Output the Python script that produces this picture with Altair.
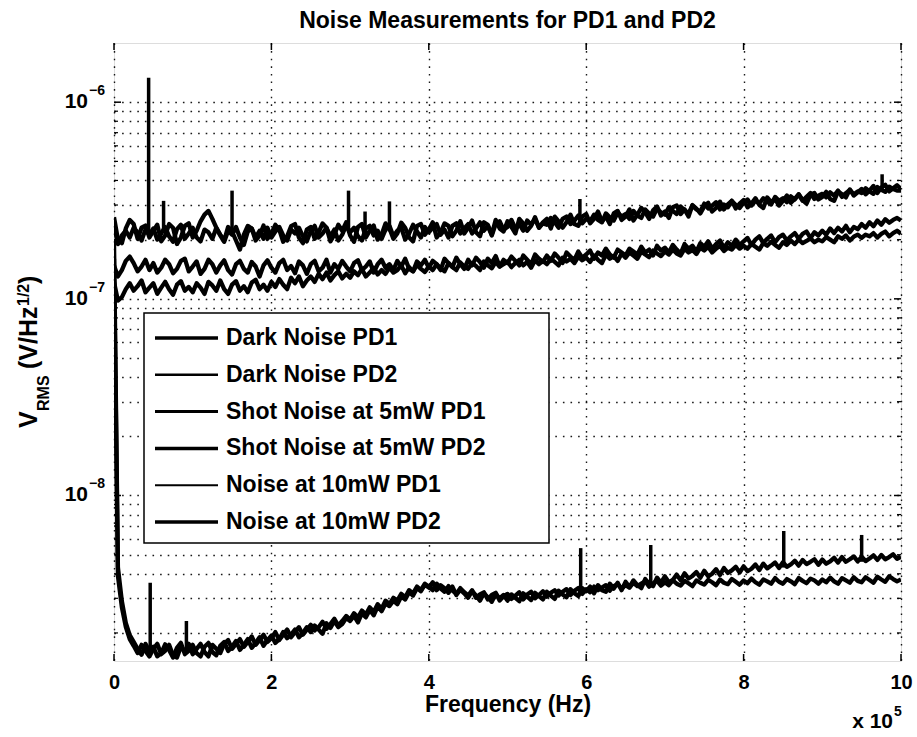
import altair as alt
import pandas as pd

FONT = "Liberation Sans"

# Frequency sampling grid in units of 1e5 Hz (0 .. 10, step 0.05)
FREQ = [round(0.05 * i, 2) for i in range(201)]

SERIES = ["Dark Noise PD1", "Dark Noise PD2", "Shot Noise at 5mW PD1",
          "Shot Noise at 5mW PD2", "Noise at 10mW PD1", "Noise at 10mW PD2"]
LEGEND_WIDTH = [3.5, 2.5, 3.0, 3.5, 2.0, 3.5]

# Dark noise, units of 1e-9 V/sqrt(Hz)
DARK_PD1 = [200, 4.30, 2.90, 2.25, 1.95, 1.80, 1.66, 1.55, 1.76, 1.62,
            1.70, 1.52, 1.58, 1.75, 1.64, 1.50, 1.68, 1.78, 1.56, 1.62,
            1.74, 1.58, 1.52, 1.70, 1.78, 1.60, 1.54, 1.72, 1.80, 1.62,
            1.70, 1.82, 1.64, 1.74, 1.86, 1.68, 1.78, 1.90, 1.72, 1.84,
            1.94, 1.78, 1.86, 2.02, 1.88, 1.96, 2.08, 1.90, 2.00, 2.14,
            2.02, 2.18, 2.08, 1.98, 2.24, 2.12, 2.30, 2.14, 2.22, 2.38,
            2.30, 2.44, 2.26, 2.52, 2.40, 2.62, 2.46, 2.72, 2.58, 2.82,
            2.74, 2.92, 2.80, 3.06, 2.96, 3.22, 3.10, 3.38, 3.26, 3.52,
            3.40, 3.62, 3.30, 3.50, 3.38, 3.20, 3.44, 3.12, 3.32, 3.18,
            3.02, 3.26, 3.10, 2.92, 3.18, 3.04, 2.88, 3.16, 3.00, 3.12,
            2.92, 3.14, 3.02, 2.90, 3.18, 3.06, 2.94, 3.20, 3.08, 2.96,
            3.24, 3.10, 2.98, 3.28, 3.14, 3.04, 3.34, 3.18, 3.08, 3.38,
            3.26, 3.44, 3.18, 3.50, 3.30, 3.24, 3.56, 3.36, 3.60, 3.30,
            3.64, 3.42, 3.70, 3.50, 3.38, 3.76, 3.56, 3.46, 3.82, 3.60,
            3.88, 3.62, 3.72, 3.96, 3.70, 4.02, 3.78, 3.90, 4.08, 3.82,
            4.14, 3.88, 4.00, 4.22, 3.94, 4.28, 4.04, 4.16, 4.34, 4.06,
            4.36, 4.12, 4.24, 4.46, 4.18, 4.50, 4.26, 4.40, 4.56, 4.28,
            4.58, 4.34, 4.46, 4.66, 4.40, 4.70, 4.48, 4.60, 4.74, 4.44,
            4.72, 4.50, 4.62, 4.82, 4.56, 4.86, 4.60, 4.74, 4.90, 4.62,
            4.88, 4.64, 4.78, 4.96, 4.70, 4.98, 4.74, 4.86, 5.02, 4.76,
            4.88]
DARK_PD2 = [160, 3.90, 2.70, 2.15, 1.86, 1.72, 1.58, 1.74, 1.62, 1.52,
            1.66, 1.76, 1.56, 1.62, 1.74, 1.54, 1.50, 1.70, 1.60, 1.76,
            1.56, 1.66, 1.76, 1.60, 1.52, 1.74, 1.66, 1.58, 1.76, 1.84,
            1.66, 1.76, 1.86, 1.70, 1.80, 1.92, 1.74, 1.84, 1.96, 1.80,
            1.88, 2.02, 1.84, 1.96, 2.08, 1.90, 2.02, 2.14, 1.96, 2.08,
            2.20, 2.06, 2.14, 2.28, 2.10, 2.22, 2.36, 2.18, 2.30, 2.44,
            2.34, 2.52, 2.40, 2.60, 2.48, 2.70, 2.56, 2.80, 2.66, 2.92,
            2.80, 3.02, 2.92, 3.16, 3.04, 3.30, 3.18, 3.44, 3.30, 3.56,
            3.44, 3.30, 3.56, 3.36, 3.24, 3.46, 3.28, 3.16, 3.38, 3.22,
            3.10, 3.30, 3.02, 3.14, 3.22, 2.96, 3.12, 3.20, 2.92, 3.08,
            3.16, 2.98, 3.10, 3.22, 2.96, 3.14, 3.24, 3.00, 3.12, 3.26,
            3.06, 3.20, 3.30, 3.10, 3.24, 3.34, 3.12, 3.28, 3.38, 3.16,
            3.34, 3.22, 3.44, 3.30, 3.40, 3.50, 3.28, 3.46, 3.54, 3.36,
            3.50, 3.40, 3.60, 3.46, 3.56, 3.66, 3.44, 3.58, 3.68, 3.48,
            3.62, 3.50, 3.70, 3.56, 3.48, 3.68, 3.58, 3.46, 3.70, 3.60,
            3.52, 3.72, 3.62, 3.50, 3.74, 3.60, 3.54, 3.76, 3.64, 3.52,
            3.70, 3.58, 3.78, 3.62, 3.52, 3.74, 3.66, 3.56, 3.80, 3.64,
            3.56, 3.76, 3.66, 3.54, 3.80, 3.68, 3.58, 3.78, 3.70, 3.56,
            3.74, 3.62, 3.82, 3.66, 3.56, 3.80, 3.70, 3.60, 3.84, 3.68,
            3.62, 3.84, 3.72, 3.60, 3.86, 3.74, 3.64, 3.88, 3.76, 3.66,
            3.74]

# Shot noise at 5 mW, units of 1e-7 V/sqrt(Hz)
SHOT_PD1 = [1.48, 1.30, 1.40, 1.56, 1.64, 1.52, 1.38, 1.46, 1.58, 1.40,
            1.52, 1.36, 1.44, 1.58, 1.50, 1.35, 1.42, 1.56, 1.60, 1.38,
            1.46, 1.55, 1.34, 1.42, 1.58, 1.50, 1.36, 1.48, 1.57, 1.40,
            1.33, 1.50, 1.56, 1.42, 1.36, 1.54, 1.46, 1.30, 1.48, 1.57,
            1.44, 1.36, 1.52, 1.58, 1.40, 1.47, 1.35, 1.55, 1.48, 1.34,
            1.50, 1.56, 1.38, 1.44, 1.58, 1.36, 1.50, 1.42, 1.56, 1.46,
            1.38, 1.52, 1.57, 1.40, 1.46, 1.55, 1.36, 1.50, 1.58, 1.44,
            1.50, 1.40, 1.56, 1.46, 1.60, 1.42, 1.38, 1.55, 1.48, 1.58,
            1.44, 1.56, 1.50, 1.40, 1.60, 1.52, 1.45, 1.62, 1.50, 1.42,
            1.58, 1.48, 1.62, 1.54, 1.44, 1.60, 1.52, 1.65, 1.46, 1.58,
            1.52, 1.64, 1.56, 1.48, 1.66, 1.58, 1.50, 1.68, 1.60, 1.54,
            1.66, 1.56, 1.70, 1.62, 1.52, 1.72, 1.64, 1.58, 1.74, 1.62,
            1.68, 1.76, 1.60, 1.72, 1.66, 1.80, 1.68, 1.62, 1.78, 1.72,
            1.66, 1.80, 1.74, 1.68, 1.84, 1.72, 1.78, 1.66, 1.86, 1.76,
            1.82, 1.72, 1.88, 1.78, 1.70, 1.90, 1.80, 1.86, 1.74, 1.92,
            1.84, 1.96, 1.80, 1.90, 1.98, 1.82, 1.94, 1.86, 2.00, 1.88,
            1.96, 2.04, 1.88, 2.00, 2.08, 1.92, 2.02, 2.10, 1.94, 2.06,
            2.12, 1.98, 2.08, 2.16, 2.02, 2.14, 2.20, 2.04, 2.18, 2.10,
            2.22, 2.12, 2.28, 2.16, 2.30, 2.20, 2.35, 2.18, 2.32, 2.26,
            2.40, 2.30, 2.45, 2.34, 2.50, 2.38, 2.54, 2.44, 2.52, 2.58,
            2.50]
SHOT_PD2 = [1.22, 0.98, 1.02, 1.12, 1.20, 1.10, 1.16, 1.24, 1.08, 1.14,
            1.20, 1.06, 1.14, 1.22, 1.12, 1.05, 1.18, 1.23, 1.10, 1.15,
            1.08, 1.20, 1.14, 1.06, 1.22, 1.17, 1.10, 1.24, 1.12, 1.06,
            1.18, 1.23, 1.10, 1.16, 1.08, 1.21, 1.25, 1.12, 1.18, 1.10,
            1.22, 1.15, 1.26, 1.18, 1.12, 1.28, 1.20, 1.30, 1.16, 1.24,
            1.30, 1.22, 1.34, 1.26, 1.36, 1.24, 1.32, 1.38, 1.27, 1.34,
            1.28, 1.38, 1.32, 1.42, 1.30, 1.36, 1.44, 1.33, 1.40, 1.34,
            1.44, 1.36, 1.40, 1.48, 1.35, 1.45, 1.38, 1.49, 1.42, 1.37,
            1.46, 1.40, 1.50, 1.43, 1.38, 1.52, 1.45, 1.40, 1.53, 1.46,
            1.42, 1.52, 1.47, 1.40, 1.55, 1.48, 1.43, 1.54, 1.46, 1.50,
            1.55, 1.45, 1.52, 1.58, 1.48, 1.54, 1.44, 1.57, 1.50, 1.56,
            1.50, 1.60, 1.54, 1.48, 1.62, 1.55, 1.60, 1.52, 1.64, 1.57,
            1.62, 1.54, 1.66, 1.58, 1.52, 1.68, 1.60, 1.65, 1.56, 1.70,
            1.62, 1.72, 1.66, 1.60, 1.74, 1.68, 1.63, 1.76, 1.70, 1.65,
            1.74, 1.68, 1.78, 1.70, 1.66, 1.80, 1.72, 1.77, 1.69, 1.82,
            1.76, 1.84, 1.72, 1.80, 1.86, 1.75, 1.82, 1.78, 1.88, 1.80,
            1.86, 1.80, 1.90, 1.84, 1.78, 1.92, 1.86, 1.95, 1.88, 1.82,
            1.94, 1.88, 1.98, 1.90, 2.00, 1.92, 1.97, 2.03, 1.94, 2.00,
            1.96, 2.06, 2.00, 1.94, 2.08, 2.02, 2.10, 1.98, 2.07, 2.12,
            2.04, 2.12, 2.08, 2.16, 2.05, 2.14, 2.20, 2.08, 2.16, 2.22,
            2.14]

# Noise at 10 mW, units of 1e-7 V/sqrt(Hz)
N10_PD1 = [2.60, 2.00, 1.92, 2.28, 2.52, 2.40, 2.02, 2.30, 2.36, 2.05,
           2.22, 2.38, 1.96, 2.10, 2.40, 2.30, 1.90, 2.05, 2.35, 2.42,
           2.05, 2.22, 2.48, 2.68, 2.80, 2.55, 2.30, 2.12, 1.98, 2.32,
           2.20, 1.98, 1.78, 2.12, 2.35, 2.28, 1.98, 2.10, 2.36, 2.02,
           2.15, 2.38, 2.25, 1.95, 2.08, 2.34, 2.40, 2.05, 1.92, 2.25,
           2.32, 2.02, 2.18, 2.42, 2.30, 1.96, 2.12, 2.38, 2.22, 2.45,
           2.10, 1.95, 2.32, 2.40, 2.05, 2.22, 2.36, 2.00, 2.12, 2.42,
           2.28, 2.02, 2.15, 2.44, 2.30, 2.05, 1.96, 2.35, 2.40, 2.12,
           2.25, 2.45, 2.05, 2.18, 2.42, 2.35, 2.08, 2.22, 2.48, 2.15,
           2.30, 2.50, 2.18, 2.08, 2.45, 2.38, 2.12, 2.52, 2.28, 2.20,
           2.48, 2.32, 2.15, 2.55, 2.42, 2.22, 2.35, 2.60, 2.30, 2.45,
           2.55, 2.28, 2.62, 2.48, 2.30, 2.45, 2.68, 2.40, 2.35, 2.62,
           2.70, 2.42, 2.55, 2.78, 2.48, 2.62, 2.40, 2.72, 2.80, 2.52,
           2.62, 2.85, 2.50, 2.68, 2.90, 2.75, 2.55, 2.82, 2.95, 2.65,
           2.78, 2.58, 2.92, 2.98, 2.70, 2.85, 2.62, 3.00, 2.88, 2.72,
           2.95, 3.08, 2.78, 2.90, 3.12, 2.85, 3.02, 3.15, 2.88, 3.05,
           3.18, 2.92, 3.05, 3.25, 3.00, 2.90, 3.28, 3.10, 3.22, 2.98,
           3.15, 3.35, 3.08, 3.22, 3.40, 3.18, 3.05, 3.38, 3.45, 3.20,
           3.30, 3.50, 3.22, 3.15, 3.52, 3.40, 3.28, 3.60, 3.35, 3.48,
           3.62, 3.40, 3.55, 3.75, 3.45, 3.68, 3.80, 3.52, 3.65, 3.78,
           3.62]
N10_PD2 = [2.35, 1.90, 2.10, 2.22, 2.05, 2.30, 2.18, 1.98, 2.25, 2.12,
           2.28, 2.00, 2.15, 2.32, 2.08, 1.95, 2.26, 2.38, 2.02, 2.15,
           2.30, 2.05, 1.96, 2.25, 2.18, 2.02, 2.30, 2.10, 1.95, 2.22,
           2.12, 2.32, 2.05, 1.88, 2.20, 2.28, 2.05, 2.22, 2.02, 2.30,
           2.05, 2.20, 2.32, 2.10, 1.98, 2.25, 2.15, 2.30, 2.08, 1.96,
           2.22, 2.35, 2.05, 2.15, 2.30, 2.08, 2.25, 1.98, 2.12, 2.36,
           2.18, 2.30, 2.08, 1.98, 2.28, 2.35, 2.10, 2.22, 2.02, 2.25,
           2.35, 2.08, 2.22, 2.30, 2.00, 2.15, 2.38, 2.20, 2.05, 2.32,
           2.18, 2.30, 2.40, 2.12, 2.25, 2.05, 2.35, 2.42, 2.15, 2.28,
           2.40, 2.15, 2.28, 2.45, 2.22, 2.35, 2.10, 2.40, 2.48, 2.25,
           2.32, 2.52, 2.28, 2.40, 2.22, 2.50, 2.38, 2.55, 2.30, 2.42,
           2.38, 2.58, 2.45, 2.30, 2.55, 2.62, 2.40, 2.50, 2.65, 2.42,
           2.55, 2.48, 2.68, 2.52, 2.45, 2.72, 2.60, 2.50, 2.75, 2.62,
           2.70, 2.55, 2.80, 2.65, 2.58, 2.85, 2.72, 2.62, 2.88, 2.75,
           2.68, 2.92, 2.80, 2.70, 2.95, 2.82, 2.72, 2.98, 2.85, 2.78,
           3.05, 2.88, 2.98, 3.10, 2.85, 3.02, 2.92, 3.15, 3.00, 2.90,
           3.08, 3.20, 2.98, 3.15, 3.05, 3.25, 3.12, 3.02, 3.30, 3.15,
           3.25, 3.10, 3.32, 3.20, 3.40, 3.15, 3.30, 3.45, 3.22, 3.35,
           3.42, 3.28, 3.48, 3.35, 3.55, 3.30, 3.45, 3.58, 3.40, 3.52,
           3.45, 3.65, 3.52, 3.42, 3.70, 3.58, 3.50, 3.72, 3.62, 3.55,
           3.55]

# Narrow spectral spikes: frequency (1e5 Hz), floor and peak
N10_SPIKE_FREQ = [0.44, 0.63, 1.50, 2.98, 3.19, 3.50, 5.92, 9.76]
N10_SPIKE_BASE = [2.2, 2.2, 2.15, 2.2, 2.2, 2.2, 2.45, 3.5]      # 1e-7
N10_SPIKE_PEAK = [13.3, 3.15, 3.55, 3.55, 2.78, 3.13, 3.22, 4.3]  # 1e-7
DARK_SPIKE_FREQ = [0.46, 0.92, 5.93, 6.82, 8.51, 9.50]
DARK_SPIKE_BASE = [1.65, 1.65, 3.2, 3.6, 4.3, 4.6]               # 1e-9
DARK_SPIKE_PEAK = [3.6, 2.3, 5.4, 5.6, 6.6, 6.3]                 # 1e-9

X_TICKS = [0, 2, 4, 6, 8, 10]
Y_MAJOR = [1e-8, 1e-7, 1e-6]
Y_MAJOR_EXP = ["\u22128", "\u22127", "\u22126"]
Y_MINOR = [2e-9, 3e-9, 4e-9, 5e-9, 6e-9, 7e-9, 8e-9, 9e-9,
           2e-8, 3e-8, 4e-8, 5e-8, 6e-8, 7e-8, 8e-8, 9e-8,
           2e-7, 3e-7, 4e-7, 5e-7, 6e-7, 7e-7, 8e-7, 9e-7]

# ---------------------------------------------------------------- tables
rows = []
for name, vals, unit in [(SERIES[0], DARK_PD1, 1e-9), (SERIES[1], DARK_PD2, 1e-9),
                         (SERIES[2], SHOT_PD1, 1e-7), (SERIES[3], SHOT_PD2, 1e-7),
                         (SERIES[4], N10_PD1, 1e-7), (SERIES[5], N10_PD2, 1e-7)]:
    for f, v in zip(FREQ, vals):
        rows.append({"series": name, "f": f, "v": v * unit})
df = pd.DataFrame(rows)

spk = pd.DataFrame(
    [{"f": f, "base": b * 1e-7, "peak": p * 1e-7}
     for f, b, p in zip(N10_SPIKE_FREQ, N10_SPIKE_BASE, N10_SPIKE_PEAK)] +
    [{"f": f, "base": b * 1e-9, "peak": p * 1e-9}
     for f, b, p in zip(DARK_SPIKE_FREQ, DARK_SPIKE_BASE, DARK_SPIKE_PEAK)])

xt = pd.DataFrame({"f": X_TICKS})
ymaj = pd.DataFrame({"v": Y_MAJOR, "e": Y_MAJOR_EXP})
ymin = pd.DataFrame({"v": Y_MINOR})
leg = pd.DataFrame({"series": SERIES, "idx": list(range(len(SERIES))), "lw": LEGEND_WIDTH})
one = pd.DataFrame({"k": [0]})

W, H = 787, 618
XSCALE = alt.Scale(domain=[0, 10], nice=False, zero=False)
YSCALE = alt.Scale(type="log", domain=[1.44e-9, 2.0e-6], nice=False)
GRID = dict(grid=True, gridDash=[1.6, 6], gridColor="black", gridWidth=1.4, gridOpacity=0.9)
XAXIS = alt.Axis(values=X_TICKS, ticks=False, tickSize=0, domain=False, title=None,
                 labelFont=FONT, labelFontSize=20, labelFontWeight="bold", labelColor="black",
                 labelPadding=11, labelFlush=False, labelOverlap=False, **GRID)
YAXIS = alt.Axis(values=Y_MINOR + Y_MAJOR, ticks=False, tickSize=0, domain=False,
                 labels=False, title=None, **GRID)


def X(field):
    return alt.X(field, scale=XSCALE, axis=XAXIS)


def Y(field, axis=None):
    return alt.Y(field, scale=YSCALE, axis=axis)


lines = alt.Chart(df).mark_line(color="black", strokeWidth=4.3, strokeJoin="round", clip=True).encode(
    x=X("f:Q"), y=Y("v:Q", YAXIS), detail="series:N")
spikes = alt.Chart(spk).mark_rule(color="black", strokeWidth=3.5).encode(
    x=X("f:Q"), y=Y("base:Q"), y2="peak:Q")
xt_bot = alt.Chart(xt).mark_rule(color="black", strokeWidth=1.5).encode(
    x=X("f:Q"), y=alt.value(H), y2=alt.value(H - 7))
xt_top = alt.Chart(xt).mark_rule(color="black", strokeWidth=1.5).encode(
    x=X("f:Q"), y=alt.value(0), y2=alt.value(7))
ymaj_l = alt.Chart(ymaj).mark_rule(color="black", strokeWidth=1.5).encode(
    y=Y("v:Q"), x=alt.value(0), x2=alt.value(7))
ymaj_r = alt.Chart(ymaj).mark_rule(color="black", strokeWidth=1.5).encode(
    y=Y("v:Q"), x=alt.value(W), x2=alt.value(W - 7))
ymin_l = alt.Chart(ymin).mark_rule(color="black", strokeWidth=1.2).encode(
    y=Y("v:Q"), x=alt.value(0), x2=alt.value(4))
ymin_r = alt.Chart(ymin).mark_rule(color="black", strokeWidth=1.2).encode(
    y=Y("v:Q"), x=alt.value(W), x2=alt.value(W - 4))
ylab_base = alt.Chart(ymaj).mark_text(text="10", font=FONT, fontSize=21, fontWeight="bold",
                                      align="right", baseline="middle", color="black").encode(
    y=Y("v:Q"), x=alt.value(-26))
ylab_exp = alt.Chart(ymaj).mark_text(font=FONT, fontSize=14, fontWeight="bold",
                                     align="left", baseline="middle", dy=-11, color="black").encode(
    y=Y("v:Q"), x=alt.value(-25), text="e:N")

# ---------------------------------------------------------------- legend
ROWSCALE = alt.Scale(domain=[0, 5], range=[295, 479], nice=False, zero=False)
leg_box = alt.Chart(one).mark_rect(fill="white", stroke="black", strokeWidth=1.5).encode(
    x=alt.value(30), x2=alt.value(435), y=alt.value(270), y2=alt.value(500))
leg_line = alt.Chart(leg).mark_rule(color="black").encode(
    y=alt.Y("idx:Q", scale=ROWSCALE, axis=None), x=alt.value(41), x2=alt.value(104),
    strokeWidth=alt.StrokeWidth("lw:Q", scale=None, legend=None))
leg_text = alt.Chart(leg).mark_text(font=FONT, fontSize=23, fontWeight="bold", align="left",
                                    baseline="middle", color="black").encode(
    y=alt.Y("idx:Q", scale=ROWSCALE, axis=None), x=alt.value(112), text="series:N")


# ---------------------------------------------------------------- texts
def txt(text, x, y, size, **kw):
    return alt.Chart(one).mark_text(text=text, font=FONT, fontSize=size, fontWeight="bold",
                                    color="black", **kw).encode(x=alt.value(x), y=alt.value(y))


title = txt("Noise Measurements for PD1 and PD2", W / 2, -15, 23, align="center", baseline="alphabetic")
xtitle = txt("Frequency (Hz)", 394, 669, 23, align="center", baseline="alphabetic")
xmult = txt("x 10", 779, 685, 21, align="right", baseline="alphabetic")
xmult_e = txt("5", 780, 673, 14, align="left", baseline="alphabetic")
yt_v = txt("V", -77, 385, 25, align="left", baseline="alphabetic", angle=270)
yt_rms = txt("RMS", -65, 368, 16, align="left", baseline="alphabetic", angle=270)
yt_unit = txt("(V/Hz", -77, 326, 25, align="left", baseline="alphabetic", angle=270)
yt_half = txt("1/2", -85, 263, 16, align="left", baseline="alphabetic", angle=270)
yt_close = txt(")", -77, 241, 25, align="left", baseline="alphabetic", angle=270)

chart = alt.layer(
    lines, spikes, xt_bot, xt_top, ymaj_l, ymaj_r, ymin_l, ymin_r, ylab_base, ylab_exp,
    leg_box, leg_line, leg_text,
    title, xtitle, xmult, xmult_e, yt_v, yt_rms, yt_unit, yt_half, yt_close,
).resolve_scale(y="independent").properties(
    width=W, height=H,
    autosize=alt.AutoSizeParams(type="none"),
    padding={"left": 114, "top": 43, "right": 16, "bottom": 76},
).configure_view(stroke="black", strokeWidth=1.5).configure(background="white")

chart.save("out.html", embed_options={"renderer": "svg", "actions": False})
